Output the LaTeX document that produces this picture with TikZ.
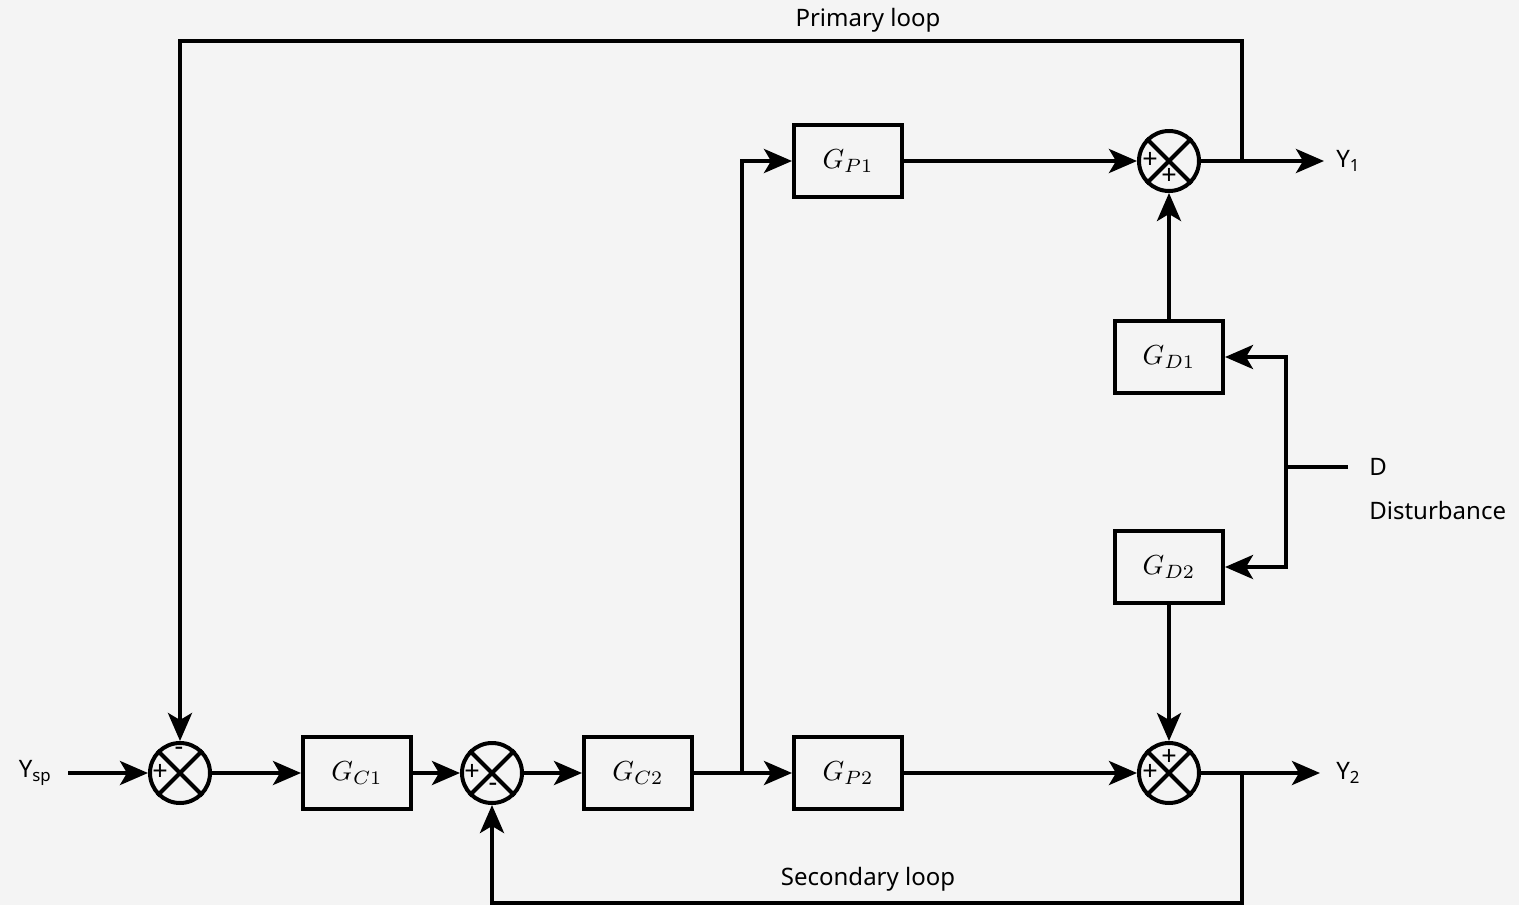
\documentclass[tikz,border=0pt]{standalone}
\usepackage{fontspec}
\setmainfont{Noto Sans}
\usetikzlibrary{arrows.meta}
\definecolor{bgc}{HTML}{F4F4F4}
\newcommand{\gbx}[1]{\scalebox{2.75}{$#1$}}
\begin{document}
\begin{tikzpicture}[x=1pt,y=-1pt,
  line width=4pt,
  arr/.style={-{Stealth[length=28pt,width=24pt,inset=7pt]}},
  blk/.style={draw,rectangle,minimum width=108pt,minimum height=72pt,inner sep=0pt},
  sumj/.style={draw,circle,minimum size=60pt,inner sep=0pt},
  lbl/.style={font=\fontsize{24}{28}\selectfont},
  sgn/.style={font=\fontsize{27}{30}\selectfont,inner sep=0pt}]
\fill[bgc] (0,0) rectangle (1519,905);
\useasboundingbox (0,0) rectangle (1519,905);
% summing junctions
\node[sumj] (s1) at (180,773) {};
\node[sumj] (s2) at (492,773) {};
\node[sumj] (s3) at (1169,161) {};
\node[sumj] (s4) at (1169,773) {};
\foreach \s in {s1,s2,s3,s4}{
  \draw (\s.north west) -- (\s.south east);
  \draw (\s.north east) -- (\s.south west);
}
\node[sgn] at (160,772) {+};
\node[sgn] at (179,751) {-};
\node[sgn] at (472,772) {+};
\node[sgn] at (493,787) {-};
\node[sgn] at (1150,160) {+};
\node[sgn] at (1169,176) {+};
\node[sgn] at (1150,772) {+};
\node[sgn] at (1169,757) {+};
% blocks
\node[blk] (gc1) at (357,773) {\gbx{G_{C1}}};
\node[blk] (gc2) at (638,773) {\gbx{G_{C2}}};
\node[blk] (gp2) at (848,773) {\gbx{G_{P2}}};
\node[blk] (gp1) at (848,161) {\gbx{G_{P1}}};
\node[blk] (gd1) at (1169,357) {\gbx{G_{D1}}};
\node[blk] (gd2) at (1169,567) {\gbx{G_{D2}}};
% labels
\node[lbl] (ysp) at (35,773) {Y\textsubscript{sp}};
\node[lbl,anchor=west] (y1) at (1331,161) {Y\textsubscript{1}};
\node[lbl,anchor=west] (y2) at (1331,773) {Y\textsubscript{2}};
\node[lbl,anchor=west] (d) at (1364,467) {D};
\node[lbl,anchor=west] (dist) at (1364,510) {Disturbance};
\node[lbl] (pl) at (868,20) {Primary loop};
\node[lbl] (sl) at (868,879) {Secondary loop};
% coordinates
\coordinate (yspe) at (68,773);
\coordinate (y1e) at (1324,161);
\coordinate (y2e) at (1320,773);
\coordinate (pt) at (1242,161);
\coordinate (st) at (1242,773);
\coordinate (br) at (742,773);
\coordinate (dj) at (1286,467);
\coordinate (de) at (1348,467);
% connectors
\draw[arr] (yspe) -- (s1);
\draw[arr] (s1) -- (gc1);
\draw[arr] (gc1) -- (s2);
\draw[arr] (s2) -- (gc2);
\draw[arr] (gc2) -- (gp2);
\draw[arr] (br) |- (gp1);
\draw[arr] (gp1) -- (s3);
\draw[arr] (gp2) -- (s4);
\draw[arr] (s3) -- (y1e);
\draw[arr] (s4) -- (y2e);
\draw[arr] (gd1) -- (s3);
\draw[arr] (gd2) -- (s4);
\draw[arr] (pt) -- (1242,41) -| (s1);
\draw[arr] (st) -- (1242,903) -| (s2);
\draw (de) -- (dj);
\draw[arr] (dj) |- (gd1);
\draw[arr] (dj) |- (gd2);
\end{tikzpicture}
\end{document}
